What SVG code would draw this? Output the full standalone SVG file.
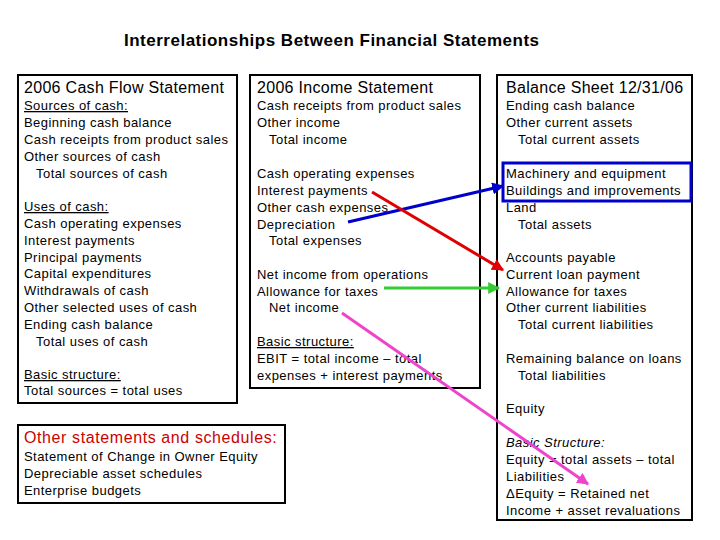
<svg xmlns="http://www.w3.org/2000/svg" width="720" height="540" viewBox="0 0 720 540">
<style>
text{font-family:"Liberation Sans",Arial,sans-serif;font-size:13px;fill:#000;letter-spacing:0.45px}
.h{font-size:16px;letter-spacing:0.3px}
.box{fill:#fff;stroke:#000;stroke-width:2}
.u{text-decoration:underline}
</style>
<defs>
<marker id="ab" viewBox="0 0 10 10" refX="9" refY="5" markerWidth="4" markerHeight="4" orient="auto"><path d="M0,0L10,5L0,10z" fill="#0000cc"/></marker>
<marker id="ar" viewBox="0 0 10 10" refX="9" refY="5" markerWidth="4" markerHeight="4" orient="auto"><path d="M0,0L10,5L0,10z" fill="#e00000"/></marker>
<marker id="ag" viewBox="0 0 10 10" refX="9" refY="5" markerWidth="4" markerHeight="4" orient="auto"><path d="M0,0L10,5L0,10z" fill="#33cc33"/></marker>
<marker id="am" viewBox="0 0 10 10" refX="9" refY="5" markerWidth="4" markerHeight="4" orient="auto"><path d="M0,0L10,5L0,10z" fill="#ee44cc"/></marker>
</defs>
<rect width="720" height="540" fill="#fff"/>
<text x="124" y="46" style="font-size:17px;font-weight:bold;letter-spacing:0.5px">Interrelationships Between Financial Statements</text>
<g id="cashflow">
<rect class="box" x="18" y="75" width="219" height="328"/>
<text x="24" y="93" class="h">2006 Cash Flow Statement</text>
<text x="24" y="110" class="u">Sources of cash:</text>
<text x="24" y="127">Beginning cash balance</text>
<text x="24" y="144">Cash receipts from product sales</text>
<text x="24" y="161">Other sources of cash</text>
<text x="36" y="178">Total sources of cash</text>
<text x="24" y="211" class="u">Uses of cash:</text>
<text x="24" y="228">Cash operating expenses</text>
<text x="24" y="245">Interest payments</text>
<text x="24" y="262">Principal payments</text>
<text x="24" y="278">Capital expenditures</text>
<text x="24" y="295">Withdrawals of cash</text>
<text x="24" y="312">Other selected uses of cash</text>
<text x="24" y="329">Ending cash balance</text>
<text x="36" y="346">Total uses of cash</text>
<text x="24" y="379" class="u">Basic structure:</text>
<text x="24" y="395">Total sources = total uses</text>
</g>
<g id="income">
<rect class="box" x="250" y="75" width="230" height="313"/>
<text x="257" y="93" class="h">2006 Income Statement</text>
<text x="257" y="110">Cash receipts from product sales</text>
<text x="257" y="127">Other income</text>
<text x="269" y="144">Total income</text>
<text x="257" y="178">Cash operating expenses</text>
<text x="257" y="195">Interest payments</text>
<text x="257" y="212">Other cash expenses</text>
<text x="257" y="229">Depreciation</text>
<text x="269" y="245">Total expenses</text>
<text x="257" y="279">Net income from operations</text>
<text x="257" y="296">Allowance for taxes</text>
<text x="269" y="312">Net income</text>
<text x="257" y="346" class="u">Basic structure:</text>
<text x="257" y="363">EBIT = total income – total</text>
<text x="257" y="380">expenses + interest payments</text>
</g>
<g id="balance">
<rect class="box" x="497" y="75" width="195" height="445"/>
<rect x="503" y="163" width="188" height="38" fill="none" stroke="#0000cc" stroke-width="3"/>
<text x="506" y="93" class="h">Balance Sheet 12/31/06</text>
<text x="506" y="110">Ending cash balance</text>
<text x="506" y="127">Other current assets</text>
<text x="518" y="144">Total current assets</text>
<text x="506" y="178">Machinery and equipment</text>
<text x="506" y="195">Buildings and improvements</text>
<text x="506" y="212">Land</text>
<text x="518" y="229">Total assets</text>
<text x="506" y="262">Accounts payable</text>
<text x="506" y="279">Current loan payment</text>
<text x="506" y="296">Allowance for taxes</text>
<text x="506" y="312">Other current liabilities</text>
<text x="518" y="329">Total current liabilities</text>
<text x="506" y="363">Remaining balance on loans</text>
<text x="518" y="380">Total liabilities</text>
<text x="506" y="413">Equity</text>
<text x="506" y="447" font-style="italic">Basic Structure:</text>
<text x="506" y="464">Equity = total assets – total</text>
<text x="506" y="481">Liabilities</text>
<text x="506" y="498">ΔEquity = Retained net</text>
<text x="506" y="515">Income + asset revaluations</text>
</g>
<g id="other">
<rect class="box" x="18" y="425" width="267" height="78"/>
<text x="24" y="443" class="h" style="fill:#cc0000;letter-spacing:0.6px">Other statements and schedules:</text>
<text x="24" y="461">Statement of Change in Owner Equity</text>
<text x="24" y="478">Depreciable asset schedules</text>
<text x="24" y="495">Enterprise budgets</text>
</g>
<g id="connectors" stroke-width="3" fill="none">
<line x1="348" y1="222" x2="503" y2="186" stroke="#0000cc" marker-end="url(#ab)"/>
<line x1="372" y1="192" x2="503" y2="270" stroke="#e00000" marker-end="url(#ar)"/>
<line x1="384" y1="288" x2="499" y2="288" stroke="#33cc33" marker-end="url(#ag)"/>
<line x1="342" y1="313" x2="588" y2="484" stroke="#ee44cc" marker-end="url(#am)"/>
</g>
</svg>
